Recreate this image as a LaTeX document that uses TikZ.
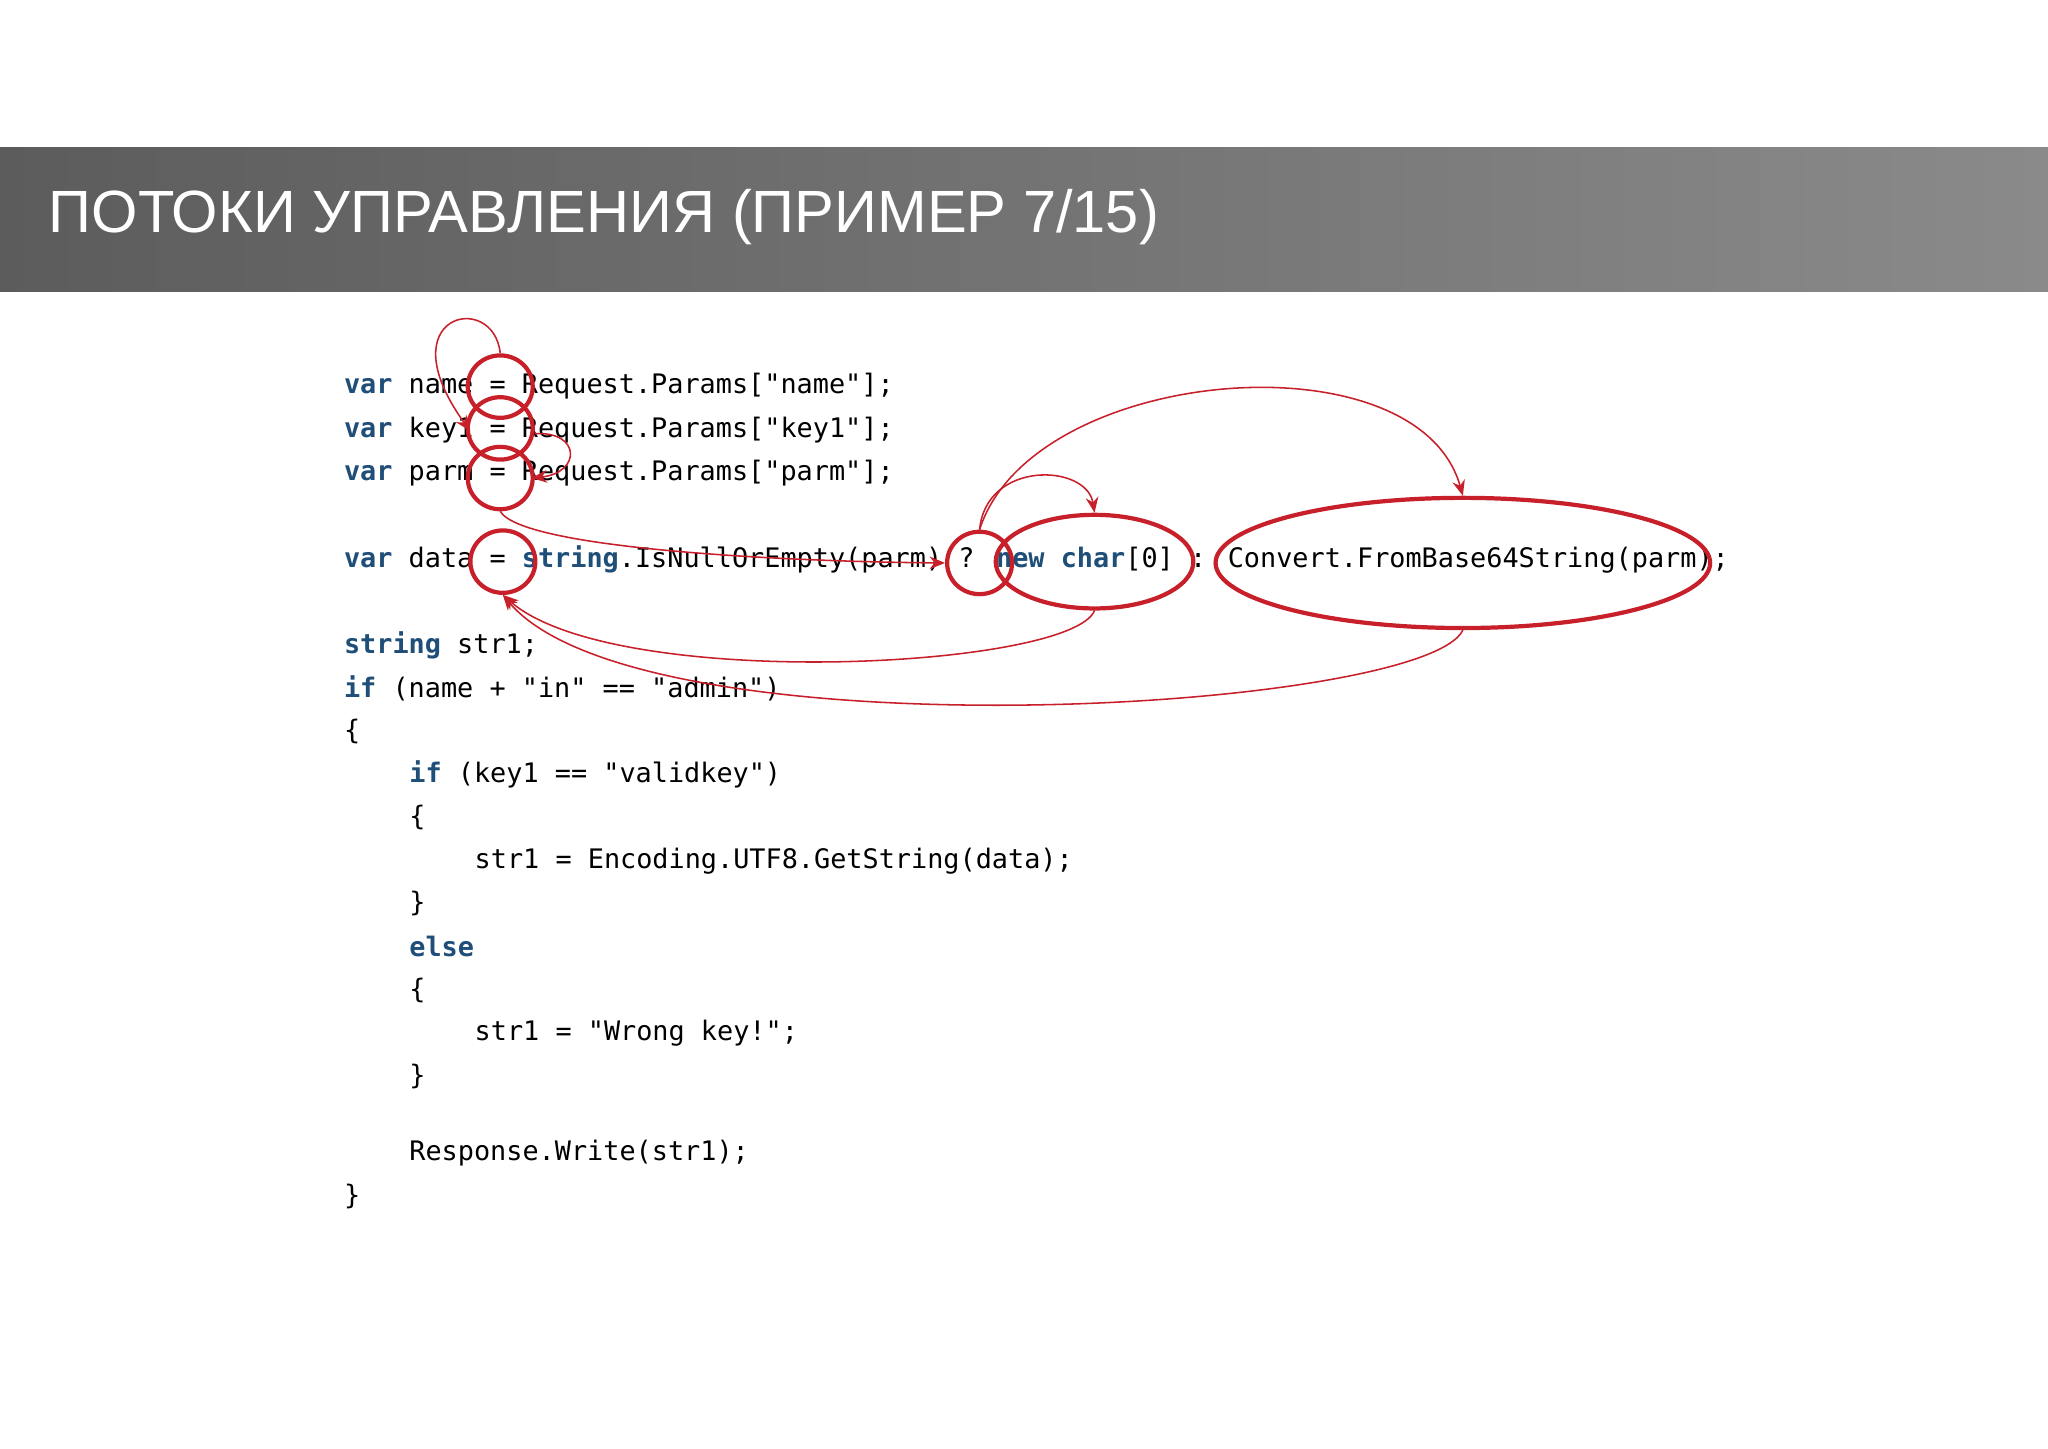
\documentclass[tikz,border=0pt]{standalone}
\usepackage{fontspec}
\setmainfont{Liberation Sans}
\newfontfamily\codefont{DejaVu Sans Mono}
\usetikzlibrary{shapes.geometric,arrows.meta,calc}
\definecolor{kw}{HTML}{1F4E79}
\definecolor{redc}{HTML}{C8202A}
\definecolor{hdrL}{HTML}{5C5C5C}
\definecolor{hdrR}{HTML}{8A8A8A}
\tikzset{
  code/.style={anchor=west,inner sep=0pt,font=\codefont\fontsize{9.55pt}{11pt}\selectfont,text=black},
  ring/.style={draw=redc,line width=1.5pt,ellipse,inner sep=0pt},
  flow/.style={draw=redc,line width=0.55pt,-{Stealth[length=5.5pt,width=4.5pt]}}
}
\newcommand{\kw}[1]{\textcolor{kw}{\bfseries #1}}
\begin{document}
\begin{tikzpicture}[x=0.016327cm,y=-0.016327cm]
\useasboundingbox (0,0) rectangle (1568,1109);
\fill[white] (0,0) rectangle (1568,1109);
\shade[left color=hdrL,right color=hdrR] (0,113) rectangle (1568,223);
\node[anchor=west,inner sep=0pt,text=white,font=\fontsize{21.2pt}{25pt}\selectfont] (title) at (37,166) {ПОТОКИ УПРАВЛЕНИЯ (ПРИМЕР 7/15)};

\node[code] (l1) at (263,296) {\kw{var} name = Request.Params["name"];};
\node[code] (l2) at (263,329) {\kw{var} key1 = Request.Params["key1"];};
\node[code] (l3) at (263,362) {\kw{var} parm = Request.Params["parm"];};
\node[code] (l4) at (263,428) {\kw{var} data = \kw{string}.IsNullOrEmpty(parm) ? \kw{new} \kw{char}[0] : Convert.FromBase64String(parm);};
\node[code] (l5) at (263,494) {\kw{string} str1;};
\node[code] (l6) at (263,527) {\kw{if} (name + "in" == "admin")};
\node[code] (l7) at (263,560) {\{};
\node[code] (l8) at (313,593) {\kw{if} (key1 == "validkey")};
\node[code] (l9) at (313,626) {\{};
\node[code] (l10) at (363,659) {str1 = Encoding.UTF8.GetString(data);};
\node[code] (l11) at (313,692) {\}};
\node[code] (l12) at (313,725) {\kw{else}};
\node[code] (l13) at (313,758) {\{};
\node[code] (l14) at (363,791) {str1 = "Wrong key!";};
\node[code] (l15) at (313,824) {\}};
\node[code] (l16) at (313,883) {Response.Write(str1);};
\node[code] (l17) at (263,916) {\}};

\node[ring,minimum width=23.1pt,minimum height=22.2pt] (c1) at (383,296) {};
\node[ring,minimum width=23.1pt,minimum height=22.2pt] (c2) at (383,328) {};
\node[ring,minimum width=23.1pt,minimum height=22.2pt] (c3) at (383,366) {};
\node[ring,minimum width=23.1pt,minimum height=22.2pt] (c4) at (385,430) {};
\node[ring,minimum width=23.1pt,minimum height=22.2pt] (c5) at (750,431) {};
\node[ring,minimum width=70.3pt,minimum height=33.3pt] (e6) at (838,430) {};
\node[ring,minimum width=175.9pt,minimum height=46.3pt] (e7) at (1120,431) {};

\coordinate (k1) at (360,330);
\coordinate (k3) at (407,366);
\draw[flow] (c1.north) .. controls (378,222) and (295,240) .. (k1);
\draw[flow] ($(c2.east)+(0,4)$) .. controls (445,330) and (445,362) .. (k3);
\draw[flow] (c3.south) .. controls (400,420) and (600,430) .. (c5.west);
\draw[flow] (c5.north) .. controls (755,352) and (832,355) .. (e6.north);
\draw[flow] (c5.north) .. controls (790,280) and (1085,255) .. (e7.north);
\draw[flow] (e6.south) .. controls (820,512) and (470,530) .. (c4.south);
\draw[flow] (e7.south) .. controls (1090,545) and (490,580) .. (c4.south);
\end{tikzpicture}
\end{document}
